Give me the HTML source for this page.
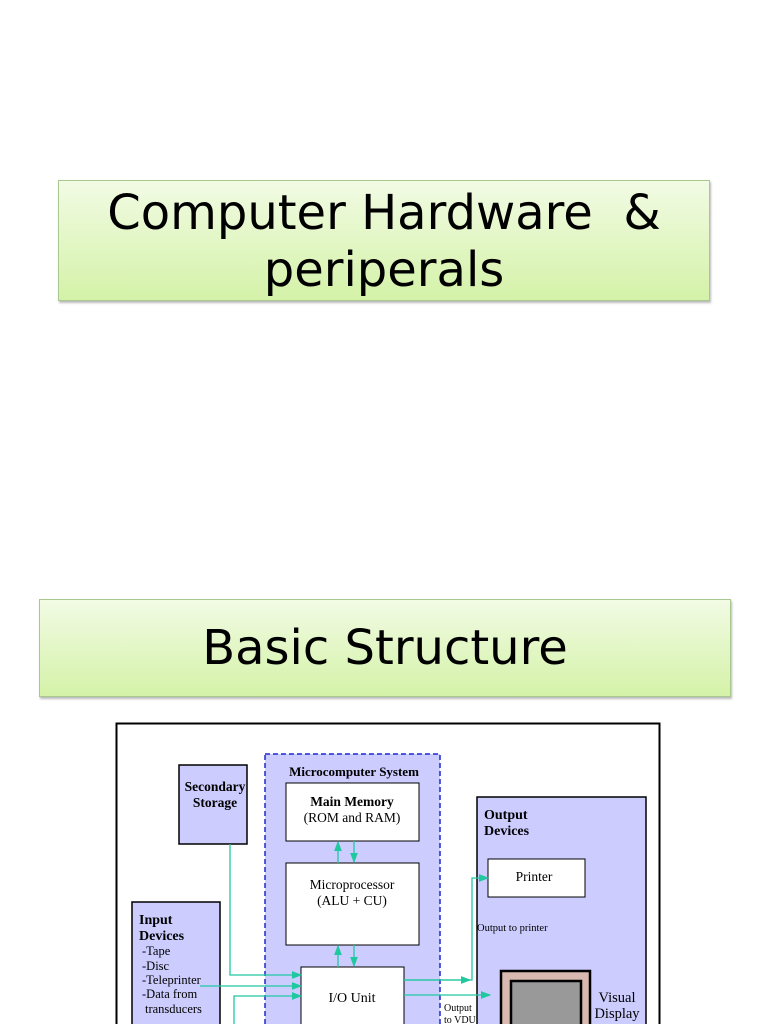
<!DOCTYPE html>
<html><head><meta charset="utf-8"><style>
body{margin:0;width:768px;height:1024px;background:#fff;overflow:hidden;position:relative;font-family:"DejaVu Sans","Liberation Sans",sans-serif}
.t{position:absolute;border:1px solid #a8c890;background:linear-gradient(#f2fbe4,#d4f2a8);box-shadow:1px 2px 2px #bbb;text-align:center;color:#000}
</style></head><body>
<div class="t" style="left:58px;top:180px;width:652px;height:121px;font-size:48px;line-height:57px;padding-top:4px;box-sizing:border-box">Computer Hardware &nbsp;&amp;<br>periperals</div>
<div class="t" style="left:39px;top:599px;width:690px;height:96px;font-size:48px;line-height:96px">Basic Structure</div>
<svg style="position:absolute;left:0;top:0" width="768" height="1024" font-family="Liberation Serif,serif" font-size="13.5">
<defs><marker id="a" markerWidth="8" markerHeight="6" refX="7" refY="3" orient="auto"><path d="M0,0L8,3L0,6z" fill="#20c8a0"/></marker></defs>
<rect x="116.5" y="723.5" width="543" height="310" fill="#fff" stroke="#000" stroke-width="2"/>
<rect x="179" y="765" width="68" height="79" fill="#ccccff" stroke="#000" stroke-width="1.5"/>
<text x="215" y="791" text-anchor="middle" font-weight="bold">Secondary</text>
<text x="215" y="807" text-anchor="middle" font-weight="bold">Storage</text>
<rect x="265" y="754" width="175" height="280" fill="#ccccff" stroke="#1a2ad0" stroke-width="1.5" stroke-dasharray="5,3"/>
<text x="354" y="776" text-anchor="middle" font-weight="bold" font-size="13">Microcomputer System</text>
<rect x="286" y="783" width="133" height="58" fill="#fff" stroke="#000"/>
<text x="352" y="806" text-anchor="middle" font-weight="bold">Main Memory</text>
<text x="352" y="822" text-anchor="middle">(ROM and RAM)</text>
<rect x="286" y="863" width="133" height="82" fill="#fff" stroke="#000"/>
<text x="352" y="889" text-anchor="middle">Microprocessor</text>
<text x="352" y="905" text-anchor="middle">(ALU + CU)</text>
<rect x="301" y="967" width="103" height="70" fill="#fff" stroke="#000"/>
<text x="352" y="1002" text-anchor="middle" font-size="14">I/O Unit</text>
<rect x="132" y="902" width="88" height="130" fill="#ccccff" stroke="#000" stroke-width="1.5"/>
<text x="139" y="924" font-weight="bold" font-size="14">Input</text>
<text x="139" y="940" font-weight="bold" font-size="14">Devices</text>
<text x="142" y="955" font-size="12.5">-Tape</text>
<text x="142" y="970" font-size="12.5">-Disc</text>
<text x="142" y="984" font-size="12.5">-Teleprinter</text>
<text x="142" y="998" font-size="12.5">-Data from</text>
<text x="145" y="1013" font-size="12.5">transducers</text>
<rect x="477" y="797" width="169" height="237" fill="#ccccff" stroke="#000" stroke-width="1.5"/>
<text x="484" y="819" font-weight="bold" font-size="14">Output</text>
<text x="484" y="835" font-weight="bold" font-size="14">Devices</text>
<rect x="488" y="859" width="97" height="38" fill="#fff" stroke="#000"/>
<text x="534" y="881" text-anchor="middle">Printer</text>
<text x="477" y="931" font-size="10.5">Output to printer</text>
<text x="444" y="1011" font-size="10">Output</text>
<text x="444" y="1023" font-size="10">to VDU</text>
<rect x="501" y="971" width="89" height="60" fill="#d9b8b0" stroke="#000" stroke-width="2.5"/>
<rect x="511" y="981" width="70" height="50" fill="#999" stroke="#000" stroke-width="2.5"/>
<text x="617" y="1002" text-anchor="middle" font-size="14.5">Visual</text>
<text x="617" y="1018" text-anchor="middle" font-size="14.5">Display</text>
<g stroke="#20c8a0" stroke-width="1.3" fill="none">
<path d="M230,844V975H301" marker-end="url(#a)"/>
<path d="M200,986H301" marker-end="url(#a)"/>
<path d="M234,1030V996H301" marker-end="url(#a)"/>
<path d="M338,863V842" marker-end="url(#a)"/>
<path d="M354,841V862" marker-end="url(#a)"/>
<path d="M338,967V946" marker-end="url(#a)"/>
<path d="M354,945V966" marker-end="url(#a)"/>
<path d="M404,980H472V878H488" marker-end="url(#a)"/>
<path d="M404,980H470" marker-end="url(#a)"/>
<path d="M404,995H490" marker-end="url(#a)"/>
</g>
</svg>
</body></html>
